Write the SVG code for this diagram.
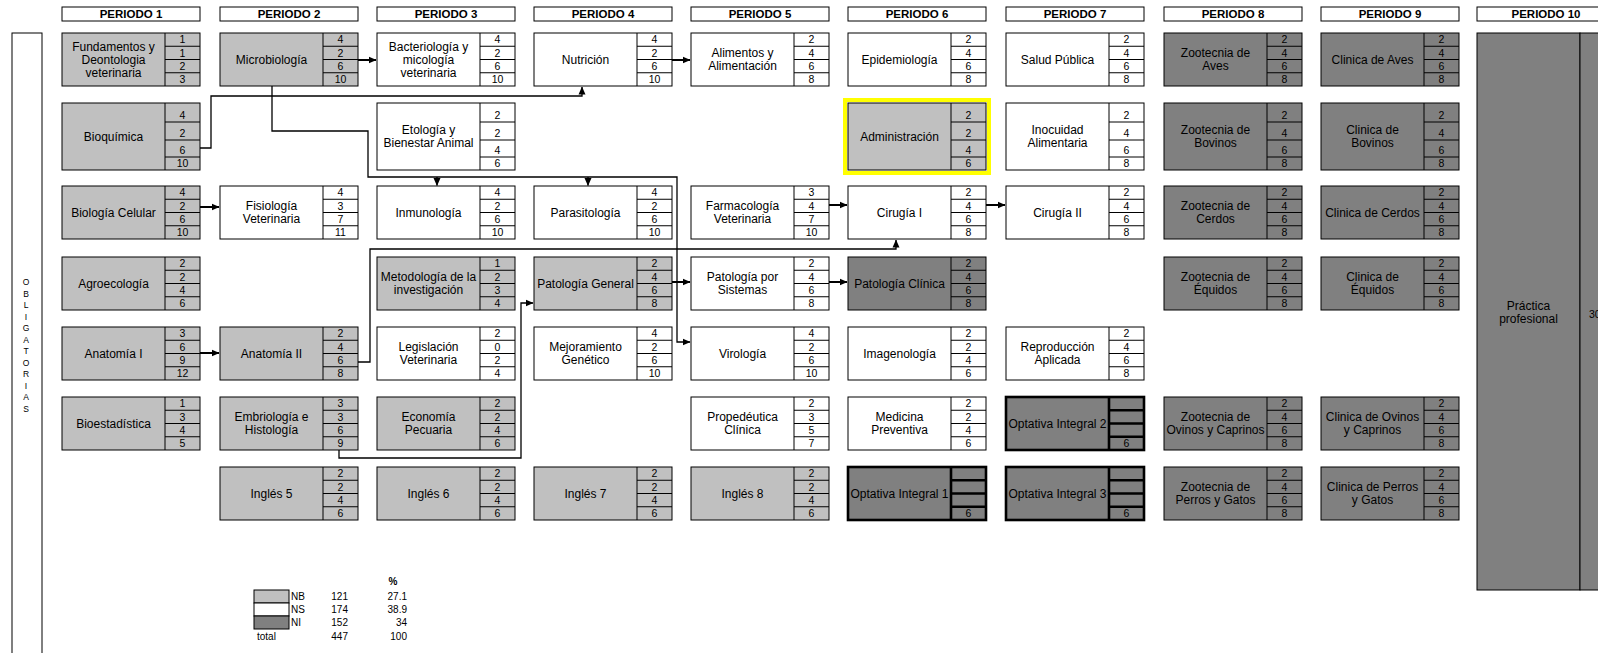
<svg xmlns="http://www.w3.org/2000/svg" xmlns:xlink="http://www.w3.org/1999/xlink" width="1598" height="653" viewBox="0 0 1598 653">
<style>
.nb{fill:#c0c0c0}.ns{fill:#fff}.ni{fill:#808080}
text{font-family:"Liberation Sans",Arial,sans-serif;fill:#000}
.nm{font-size:12px;text-anchor:middle}
.cr{font-size:10.5px;text-anchor:middle}
.hd{font-size:11.5px;font-weight:bold;text-anchor:middle}
.lg{font-size:10px}
.ob{font-size:8.5px;text-anchor:middle}
.c{fill:none;stroke:#000;stroke-width:1.3}
.s{fill:none;stroke:#000;stroke-width:2}
</style>
<defs>
<g id="fr"><rect width="138" height="53" stroke="#000" stroke-width="1"/><path d="M103 0V53M103 13.25H138M103 26.5H138M103 39.75H138" fill="none" stroke="#000" stroke-width="1"/></g>
<g id="fr2"><rect width="138" height="67" stroke="#000" stroke-width="1"/><path d="M103 0V67M103 19H138M103 37H138M103 54H138" fill="none" stroke="#000" stroke-width="1"/></g>
<g id="fro"><rect width="138" height="53" stroke="#000" stroke-width="2.6"/><path d="M103 0V53M103 13.25H138M103 26.5H138M103 39.75H138" fill="none" stroke="#000" stroke-width="2.6"/></g>
<marker id="ah" markerWidth="8" markerHeight="8" refX="7.5" refY="4" orient="auto" markerUnits="userSpaceOnUse"><path d="M0 0.5L8 4L0 7.5z" fill="#000"/></marker>
</defs>
<rect width="1598" height="653" fill="#fff"/>

<g id="headers">
<g fill="#fff" stroke="#000" stroke-width="1">
<rect x="62" y="7" width="138" height="14"/><rect x="220" y="7" width="138" height="14"/><rect x="377" y="7" width="138" height="14"/><rect x="534" y="7" width="138" height="14"/><rect x="691" y="7" width="138" height="14"/><rect x="848" y="7" width="138" height="14"/><rect x="1006" y="7" width="138" height="14"/><rect x="1164" y="7" width="138" height="14"/><rect x="1321" y="7" width="138" height="14"/><rect x="1477" y="7" width="138" height="14"/>
</g>
<text class="hd" x="131" y="18">PERIODO 1</text><text class="hd" x="289" y="18">PERIODO 2</text><text class="hd" x="446" y="18">PERIODO 3</text><text class="hd" x="603" y="18">PERIODO 4</text><text class="hd" x="760" y="18">PERIODO 5</text><text class="hd" x="917" y="18">PERIODO 6</text><text class="hd" x="1075" y="18">PERIODO 7</text><text class="hd" x="1233" y="18">PERIODO 8</text><text class="hd" x="1390" y="18">PERIODO 9</text><text class="hd" x="1546" y="18">PERIODO 10</text>
</g>

<g id="obligatorias">
<rect x="12" y="33" width="30" height="640" fill="#fff" stroke="#000" stroke-width="1"/>
<text class="ob" x="26" y="285">O<tspan x="26" dy="11.5">B</tspan><tspan x="26" dy="11.5">L</tspan><tspan x="26" dy="11.5">I</tspan><tspan x="26" dy="11.5">G</tspan><tspan x="26" dy="11.5">A</tspan><tspan x="26" dy="11.5">T</tspan><tspan x="26" dy="11.5">O</tspan><tspan x="26" dy="11.5">R</tspan><tspan x="26" dy="11.5">I</tspan><tspan x="26" dy="11.5">A</tspan><tspan x="26" dy="11.5">S</tspan></text>
</g>

<!-- PERIODO 1 -->
<g id="n-fundamentos" class="nb" transform="translate(62,33)"><use xlink:href="#fr" href="#fr"/><text class="nm" x="51.5" y="17.7">Fundamentos y<tspan x="51.5" dy="13">Deontologia</tspan><tspan x="51.5" dy="13">veterinaria</tspan></text><text class="cr"><tspan x="120.5" y="10.3">1</tspan><tspan x="120.5" y="23.6">1</tspan><tspan x="120.5" y="36.8">2</tspan><tspan x="120.5" y="50.1">3</tspan></text></g>
<g id="n-bioquimica" class="nb" transform="translate(62,103)"><use xlink:href="#fr2" href="#fr2"/><text class="nm" x="51.5" y="37.7">Bioquímica</text><text class="cr"><tspan x="120.5" y="16">4</tspan><tspan x="120.5" y="34">2</tspan><tspan x="120.5" y="51">6</tspan><tspan x="120.5" y="64">10</tspan></text></g>
<g id="n-biologia-celular" class="nb" transform="translate(62,186)"><use xlink:href="#fr" href="#fr"/><text class="nm" x="51.5" y="30.7">Biología Celular</text><text class="cr"><tspan x="120.5" y="10.3">4</tspan><tspan x="120.5" y="23.6">2</tspan><tspan x="120.5" y="36.8">6</tspan><tspan x="120.5" y="50.1">10</tspan></text></g>
<g id="n-agroecologia" class="nb" transform="translate(62,257)"><use xlink:href="#fr" href="#fr"/><text class="nm" x="51.5" y="30.7">Agroecología</text><text class="cr"><tspan x="120.5" y="10.3">2</tspan><tspan x="120.5" y="23.6">2</tspan><tspan x="120.5" y="36.8">4</tspan><tspan x="120.5" y="50.1">6</tspan></text></g>
<g id="n-anatomia1" class="nb" transform="translate(62,327)"><use xlink:href="#fr" href="#fr"/><text class="nm" x="51.5" y="30.7">Anatomía I</text><text class="cr"><tspan x="120.5" y="10.3">3</tspan><tspan x="120.5" y="23.6">6</tspan><tspan x="120.5" y="36.8">9</tspan><tspan x="120.5" y="50.1">12</tspan></text></g>
<g id="n-bioestadistica" class="nb" transform="translate(62,397)"><use xlink:href="#fr" href="#fr"/><text class="nm" x="51.5" y="30.7">Bioestadística</text><text class="cr"><tspan x="120.5" y="10.3">1</tspan><tspan x="120.5" y="23.6">3</tspan><tspan x="120.5" y="36.8">4</tspan><tspan x="120.5" y="50.1">5</tspan></text></g>

<!-- PERIODO 2 -->
<g id="n-microbiologia" class="nb" transform="translate(220,33)"><use xlink:href="#fr" href="#fr"/><text class="nm" x="51.5" y="30.7">Microbiología</text><text class="cr"><tspan x="120.5" y="10.3">4</tspan><tspan x="120.5" y="23.6">2</tspan><tspan x="120.5" y="36.8">6</tspan><tspan x="120.5" y="50.1">10</tspan></text></g>
<g id="n-fisiologia" class="ns" transform="translate(220,186)"><use xlink:href="#fr" href="#fr"/><text class="nm" x="51.5" y="24.2">Fisiología<tspan x="51.5" dy="13">Veterinaria</tspan></text><text class="cr"><tspan x="120.5" y="10.3">4</tspan><tspan x="120.5" y="23.6">3</tspan><tspan x="120.5" y="36.8">7</tspan><tspan x="120.5" y="50.1">11</tspan></text></g>
<g id="n-anatomia2" class="nb" transform="translate(220,327)"><use xlink:href="#fr" href="#fr"/><text class="nm" x="51.5" y="30.7">Anatomía II</text><text class="cr"><tspan x="120.5" y="10.3">2</tspan><tspan x="120.5" y="23.6">4</tspan><tspan x="120.5" y="36.8">6</tspan><tspan x="120.5" y="50.1">8</tspan></text></g>
<g id="n-embriologia" class="nb" transform="translate(220,397)"><use xlink:href="#fr" href="#fr"/><text class="nm" x="51.5" y="24.2">Embriología e<tspan x="51.5" dy="13">Histología</tspan></text><text class="cr"><tspan x="120.5" y="10.3">3</tspan><tspan x="120.5" y="23.6">3</tspan><tspan x="120.5" y="36.8">6</tspan><tspan x="120.5" y="50.1">9</tspan></text></g>
<g id="n-ingles5" class="nb" transform="translate(220,467)"><use xlink:href="#fr" href="#fr"/><text class="nm" x="51.5" y="30.7">Inglés 5</text><text class="cr"><tspan x="120.5" y="10.3">2</tspan><tspan x="120.5" y="23.6">2</tspan><tspan x="120.5" y="36.8">4</tspan><tspan x="120.5" y="50.1">6</tspan></text></g>

<!-- PERIODO 3 -->
<g id="n-bacteriologia" class="ns" transform="translate(377,33)"><use xlink:href="#fr" href="#fr"/><text class="nm" x="51.5" y="17.7">Bacteriología y<tspan x="51.5" dy="13">micología</tspan><tspan x="51.5" dy="13">veterinaria</tspan></text><text class="cr"><tspan x="120.5" y="10.3">4</tspan><tspan x="120.5" y="23.6">2</tspan><tspan x="120.5" y="36.8">6</tspan><tspan x="120.5" y="50.1">10</tspan></text></g>
<g id="n-etologia" class="ns" transform="translate(377,103)"><use xlink:href="#fr2" href="#fr2"/><text class="nm" x="51.5" y="31.2">Etología y<tspan x="51.5" dy="13">Bienestar Animal</tspan></text><text class="cr"><tspan x="120.5" y="16">2</tspan><tspan x="120.5" y="34">2</tspan><tspan x="120.5" y="51">4</tspan><tspan x="120.5" y="64">6</tspan></text></g>
<g id="n-inmunologia" class="ns" transform="translate(377,186)"><use xlink:href="#fr" href="#fr"/><text class="nm" x="51.5" y="30.7">Inmunología</text><text class="cr"><tspan x="120.5" y="10.3">4</tspan><tspan x="120.5" y="23.6">2</tspan><tspan x="120.5" y="36.8">6</tspan><tspan x="120.5" y="50.1">10</tspan></text></g>
<g id="n-metodologia" class="nb" transform="translate(377,257)"><use xlink:href="#fr" href="#fr"/><text class="nm" x="51.5" y="24.2">Metodología de la<tspan x="51.5" dy="13">investigación</tspan></text><text class="cr"><tspan x="120.5" y="10.3">1</tspan><tspan x="120.5" y="23.6">2</tspan><tspan x="120.5" y="36.8">3</tspan><tspan x="120.5" y="50.1">4</tspan></text></g>
<g id="n-legislacion" class="ns" transform="translate(377,327)"><use xlink:href="#fr" href="#fr"/><text class="nm" x="51.5" y="24.2">Legislación<tspan x="51.5" dy="13">Veterinaria</tspan></text><text class="cr"><tspan x="120.5" y="10.3">2</tspan><tspan x="120.5" y="23.6">0</tspan><tspan x="120.5" y="36.8">2</tspan><tspan x="120.5" y="50.1">4</tspan></text></g>
<g id="n-economia" class="nb" transform="translate(377,397)"><use xlink:href="#fr" href="#fr"/><text class="nm" x="51.5" y="24.2">Economía<tspan x="51.5" dy="13">Pecuaria</tspan></text><text class="cr"><tspan x="120.5" y="10.3">2</tspan><tspan x="120.5" y="23.6">2</tspan><tspan x="120.5" y="36.8">4</tspan><tspan x="120.5" y="50.1">6</tspan></text></g>
<g id="n-ingles6" class="nb" transform="translate(377,467)"><use xlink:href="#fr" href="#fr"/><text class="nm" x="51.5" y="30.7">Inglés 6</text><text class="cr"><tspan x="120.5" y="10.3">2</tspan><tspan x="120.5" y="23.6">2</tspan><tspan x="120.5" y="36.8">4</tspan><tspan x="120.5" y="50.1">6</tspan></text></g>

<!-- PERIODO 4 -->
<g id="n-nutricion" class="ns" transform="translate(534,33)"><use xlink:href="#fr" href="#fr"/><text class="nm" x="51.5" y="30.7">Nutrición</text><text class="cr"><tspan x="120.5" y="10.3">4</tspan><tspan x="120.5" y="23.6">2</tspan><tspan x="120.5" y="36.8">6</tspan><tspan x="120.5" y="50.1">10</tspan></text></g>
<g id="n-parasitologia" class="ns" transform="translate(534,186)"><use xlink:href="#fr" href="#fr"/><text class="nm" x="51.5" y="30.7">Parasitología</text><text class="cr"><tspan x="120.5" y="10.3">4</tspan><tspan x="120.5" y="23.6">2</tspan><tspan x="120.5" y="36.8">6</tspan><tspan x="120.5" y="50.1">10</tspan></text></g>
<g id="n-patologia-general" class="nb" transform="translate(534,257)"><use xlink:href="#fr" href="#fr"/><text class="nm" x="51.5" y="30.7">Patología General</text><text class="cr"><tspan x="120.5" y="10.3">2</tspan><tspan x="120.5" y="23.6">4</tspan><tspan x="120.5" y="36.8">6</tspan><tspan x="120.5" y="50.1">8</tspan></text></g>
<g id="n-mejoramiento" class="ns" transform="translate(534,327)"><use xlink:href="#fr" href="#fr"/><text class="nm" x="51.5" y="24.2">Mejoramiento<tspan x="51.5" dy="13">Genético</tspan></text><text class="cr"><tspan x="120.5" y="10.3">4</tspan><tspan x="120.5" y="23.6">2</tspan><tspan x="120.5" y="36.8">6</tspan><tspan x="120.5" y="50.1">10</tspan></text></g>
<g id="n-ingles7" class="nb" transform="translate(534,467)"><use xlink:href="#fr" href="#fr"/><text class="nm" x="51.5" y="30.7">Inglés 7</text><text class="cr"><tspan x="120.5" y="10.3">2</tspan><tspan x="120.5" y="23.6">2</tspan><tspan x="120.5" y="36.8">4</tspan><tspan x="120.5" y="50.1">6</tspan></text></g>

<!-- PERIODO 5 -->
<g id="n-alimentos" class="ns" transform="translate(691,33)"><use xlink:href="#fr" href="#fr"/><text class="nm" x="51.5" y="24.2">Alimentos y<tspan x="51.5" dy="13">Alimentación</tspan></text><text class="cr"><tspan x="120.5" y="10.3">2</tspan><tspan x="120.5" y="23.6">4</tspan><tspan x="120.5" y="36.8">6</tspan><tspan x="120.5" y="50.1">8</tspan></text></g>
<g id="n-farmacologia" class="ns" transform="translate(691,186)"><use xlink:href="#fr" href="#fr"/><text class="nm" x="51.5" y="24.2">Farmacología<tspan x="51.5" dy="13">Veterinaria</tspan></text><text class="cr"><tspan x="120.5" y="10.3">3</tspan><tspan x="120.5" y="23.6">4</tspan><tspan x="120.5" y="36.8">7</tspan><tspan x="120.5" y="50.1">10</tspan></text></g>
<g id="n-patologia-sistemas" class="ns" transform="translate(691,257)"><use xlink:href="#fr" href="#fr"/><text class="nm" x="51.5" y="24.2">Patología por<tspan x="51.5" dy="13">Sistemas</tspan></text><text class="cr"><tspan x="120.5" y="10.3">2</tspan><tspan x="120.5" y="23.6">4</tspan><tspan x="120.5" y="36.8">6</tspan><tspan x="120.5" y="50.1">8</tspan></text></g>
<g id="n-virologia" class="ns" transform="translate(691,327)"><use xlink:href="#fr" href="#fr"/><text class="nm" x="51.5" y="30.7">Virología</text><text class="cr"><tspan x="120.5" y="10.3">4</tspan><tspan x="120.5" y="23.6">2</tspan><tspan x="120.5" y="36.8">6</tspan><tspan x="120.5" y="50.1">10</tspan></text></g>
<g id="n-propedeutica" class="ns" transform="translate(691,397)"><use xlink:href="#fr" href="#fr"/><text class="nm" x="51.5" y="24.2">Propedéutica<tspan x="51.5" dy="13">Clínica</tspan></text><text class="cr"><tspan x="120.5" y="10.3">2</tspan><tspan x="120.5" y="23.6">3</tspan><tspan x="120.5" y="36.8">5</tspan><tspan x="120.5" y="50.1">7</tspan></text></g>
<g id="n-ingles8" class="nb" transform="translate(691,467)"><use xlink:href="#fr" href="#fr"/><text class="nm" x="51.5" y="30.7">Inglés 8</text><text class="cr"><tspan x="120.5" y="10.3">2</tspan><tspan x="120.5" y="23.6">2</tspan><tspan x="120.5" y="36.8">4</tspan><tspan x="120.5" y="50.1">6</tspan></text></g>

<!-- PERIODO 6 -->
<g id="n-epidemiologia" class="ns" transform="translate(848,33)"><use xlink:href="#fr" href="#fr"/><text class="nm" x="51.5" y="30.7">Epidemiología</text><text class="cr"><tspan x="120.5" y="10.3">2</tspan><tspan x="120.5" y="23.6">4</tspan><tspan x="120.5" y="36.8">6</tspan><tspan x="120.5" y="50.1">8</tspan></text></g>
<g id="n-administracion" class="nb" transform="translate(848,103)"><rect x="-3" y="-3" width="144" height="73" fill="none" stroke="#ffff00" stroke-width="4"/><use xlink:href="#fr2" href="#fr2"/><text class="nm" x="51.5" y="37.7">Administración</text><text class="cr"><tspan x="120.5" y="16">2</tspan><tspan x="120.5" y="34">2</tspan><tspan x="120.5" y="51">4</tspan><tspan x="120.5" y="64">6</tspan></text></g>
<g id="n-cirugia1" class="ns" transform="translate(848,186)"><use xlink:href="#fr" href="#fr"/><text class="nm" x="51.5" y="30.7">Cirugía I</text><text class="cr"><tspan x="120.5" y="10.3">2</tspan><tspan x="120.5" y="23.6">4</tspan><tspan x="120.5" y="36.8">6</tspan><tspan x="120.5" y="50.1">8</tspan></text></g>
<g id="n-patologia-clinica" class="ni" transform="translate(848,257)"><use xlink:href="#fr" href="#fr"/><text class="nm" x="51.5" y="30.7">Patología Clínica</text><text class="cr"><tspan x="120.5" y="10.3">2</tspan><tspan x="120.5" y="23.6">4</tspan><tspan x="120.5" y="36.8">6</tspan><tspan x="120.5" y="50.1">8</tspan></text></g>
<g id="n-imagenologia" class="ns" transform="translate(848,327)"><use xlink:href="#fr" href="#fr"/><text class="nm" x="51.5" y="30.7">Imagenología</text><text class="cr"><tspan x="120.5" y="10.3">2</tspan><tspan x="120.5" y="23.6">2</tspan><tspan x="120.5" y="36.8">4</tspan><tspan x="120.5" y="50.1">6</tspan></text></g>
<g id="n-medicina" class="ns" transform="translate(848,397)"><use xlink:href="#fr" href="#fr"/><text class="nm" x="51.5" y="24.2">Medicina<tspan x="51.5" dy="13">Preventiva</tspan></text><text class="cr"><tspan x="120.5" y="10.3">2</tspan><tspan x="120.5" y="23.6">2</tspan><tspan x="120.5" y="36.8">4</tspan><tspan x="120.5" y="50.1">6</tspan></text></g>
<g id="n-optativa1" class="ni" transform="translate(848,467)"><use xlink:href="#fro" href="#fro"/><text class="nm" x="51.5" y="30.7">Optativa Integral 1</text><text class="cr" x="120.5" y="50.1">6</text></g>

<!-- PERIODO 7 -->
<g id="n-salud" class="ns" transform="translate(1006,33)"><use xlink:href="#fr" href="#fr"/><text class="nm" x="51.5" y="30.7">Salud Pública</text><text class="cr"><tspan x="120.5" y="10.3">2</tspan><tspan x="120.5" y="23.6">4</tspan><tspan x="120.5" y="36.8">6</tspan><tspan x="120.5" y="50.1">8</tspan></text></g>
<g id="n-inocuidad" class="ns" transform="translate(1006,103)"><use xlink:href="#fr2" href="#fr2"/><text class="nm" x="51.5" y="31.2">Inocuidad<tspan x="51.5" dy="13">Alimentaria</tspan></text><text class="cr"><tspan x="120.5" y="16">2</tspan><tspan x="120.5" y="34">4</tspan><tspan x="120.5" y="51">6</tspan><tspan x="120.5" y="64">8</tspan></text></g>
<g id="n-cirugia2" class="ns" transform="translate(1006,186)"><use xlink:href="#fr" href="#fr"/><text class="nm" x="51.5" y="30.7">Cirugía II</text><text class="cr"><tspan x="120.5" y="10.3">2</tspan><tspan x="120.5" y="23.6">4</tspan><tspan x="120.5" y="36.8">6</tspan><tspan x="120.5" y="50.1">8</tspan></text></g>
<g id="n-reproduccion" class="ns" transform="translate(1006,327)"><use xlink:href="#fr" href="#fr"/><text class="nm" x="51.5" y="24.2">Reproducción<tspan x="51.5" dy="13">Aplicada</tspan></text><text class="cr"><tspan x="120.5" y="10.3">2</tspan><tspan x="120.5" y="23.6">4</tspan><tspan x="120.5" y="36.8">6</tspan><tspan x="120.5" y="50.1">8</tspan></text></g>
<g id="n-optativa2" class="ni" transform="translate(1006,397)"><use xlink:href="#fro" href="#fro"/><text class="nm" x="51.5" y="30.7">Optativa Integral 2</text><text class="cr" x="120.5" y="50.1">6</text></g>
<g id="n-optativa3" class="ni" transform="translate(1006,467)"><use xlink:href="#fro" href="#fro"/><text class="nm" x="51.5" y="30.7">Optativa Integral 3</text><text class="cr" x="120.5" y="50.1">6</text></g>

<!-- PERIODO 8 -->
<g id="n-zoo-aves" class="ni" transform="translate(1164,33)"><use xlink:href="#fr" href="#fr"/><text class="nm" x="51.5" y="24.2">Zootecnia de<tspan x="51.5" dy="13">Aves</tspan></text><text class="cr"><tspan x="120.5" y="10.3">2</tspan><tspan x="120.5" y="23.6">4</tspan><tspan x="120.5" y="36.8">6</tspan><tspan x="120.5" y="50.1">8</tspan></text></g>
<g id="n-zoo-bovinos" class="ni" transform="translate(1164,103)"><use xlink:href="#fr2" href="#fr2"/><text class="nm" x="51.5" y="31.2">Zootecnia de<tspan x="51.5" dy="13">Bovinos</tspan></text><text class="cr"><tspan x="120.5" y="16">2</tspan><tspan x="120.5" y="34">4</tspan><tspan x="120.5" y="51">6</tspan><tspan x="120.5" y="64">8</tspan></text></g>
<g id="n-zoo-cerdos" class="ni" transform="translate(1164,186)"><use xlink:href="#fr" href="#fr"/><text class="nm" x="51.5" y="24.2">Zootecnia de<tspan x="51.5" dy="13">Cerdos</tspan></text><text class="cr"><tspan x="120.5" y="10.3">2</tspan><tspan x="120.5" y="23.6">4</tspan><tspan x="120.5" y="36.8">6</tspan><tspan x="120.5" y="50.1">8</tspan></text></g>
<g id="n-zoo-equidos" class="ni" transform="translate(1164,257)"><use xlink:href="#fr" href="#fr"/><text class="nm" x="51.5" y="24.2">Zootecnia de<tspan x="51.5" dy="13">Équidos</tspan></text><text class="cr"><tspan x="120.5" y="10.3">2</tspan><tspan x="120.5" y="23.6">4</tspan><tspan x="120.5" y="36.8">6</tspan><tspan x="120.5" y="50.1">8</tspan></text></g>
<g id="n-zoo-ovinos" class="ni" transform="translate(1164,397)"><use xlink:href="#fr" href="#fr"/><text class="nm" x="51.5" y="24.2">Zootecnia de<tspan x="51.5" dy="13">Ovinos y Caprinos</tspan></text><text class="cr"><tspan x="120.5" y="10.3">2</tspan><tspan x="120.5" y="23.6">4</tspan><tspan x="120.5" y="36.8">6</tspan><tspan x="120.5" y="50.1">8</tspan></text></g>
<g id="n-zoo-perros" class="ni" transform="translate(1164,467)"><use xlink:href="#fr" href="#fr"/><text class="nm" x="51.5" y="24.2">Zootecnia de<tspan x="51.5" dy="13">Perros y Gatos</tspan></text><text class="cr"><tspan x="120.5" y="10.3">2</tspan><tspan x="120.5" y="23.6">4</tspan><tspan x="120.5" y="36.8">6</tspan><tspan x="120.5" y="50.1">8</tspan></text></g>

<!-- PERIODO 9 -->
<g id="n-cli-aves" class="ni" transform="translate(1321,33)"><use xlink:href="#fr" href="#fr"/><text class="nm" x="51.5" y="30.7">Clinica de Aves</text><text class="cr"><tspan x="120.5" y="10.3">2</tspan><tspan x="120.5" y="23.6">4</tspan><tspan x="120.5" y="36.8">6</tspan><tspan x="120.5" y="50.1">8</tspan></text></g>
<g id="n-cli-bovinos" class="ni" transform="translate(1321,103)"><use xlink:href="#fr2" href="#fr2"/><text class="nm" x="51.5" y="31.2">Clinica de<tspan x="51.5" dy="13">Bovinos</tspan></text><text class="cr"><tspan x="120.5" y="16">2</tspan><tspan x="120.5" y="34">4</tspan><tspan x="120.5" y="51">6</tspan><tspan x="120.5" y="64">8</tspan></text></g>
<g id="n-cli-cerdos" class="ni" transform="translate(1321,186)"><use xlink:href="#fr" href="#fr"/><text class="nm" x="51.5" y="30.7">Clinica de Cerdos</text><text class="cr"><tspan x="120.5" y="10.3">2</tspan><tspan x="120.5" y="23.6">4</tspan><tspan x="120.5" y="36.8">6</tspan><tspan x="120.5" y="50.1">8</tspan></text></g>
<g id="n-cli-equidos" class="ni" transform="translate(1321,257)"><use xlink:href="#fr" href="#fr"/><text class="nm" x="51.5" y="24.2">Clinica de<tspan x="51.5" dy="13">Équidos</tspan></text><text class="cr"><tspan x="120.5" y="10.3">2</tspan><tspan x="120.5" y="23.6">4</tspan><tspan x="120.5" y="36.8">6</tspan><tspan x="120.5" y="50.1">8</tspan></text></g>
<g id="n-cli-ovinos" class="ni" transform="translate(1321,397)"><use xlink:href="#fr" href="#fr"/><text class="nm" x="51.5" y="24.2">Clinica de Ovinos<tspan x="51.5" dy="13">y Caprinos</tspan></text><text class="cr"><tspan x="120.5" y="10.3">2</tspan><tspan x="120.5" y="23.6">4</tspan><tspan x="120.5" y="36.8">6</tspan><tspan x="120.5" y="50.1">8</tspan></text></g>
<g id="n-cli-perros" class="ni" transform="translate(1321,467)"><use xlink:href="#fr" href="#fr"/><text class="nm" x="51.5" y="24.2">Clinica de Perros<tspan x="51.5" dy="13">y Gatos</tspan></text><text class="cr"><tspan x="120.5" y="10.3">2</tspan><tspan x="120.5" y="23.6">4</tspan><tspan x="120.5" y="36.8">6</tspan><tspan x="120.5" y="50.1">8</tspan></text></g>

<!-- PERIODO 10 -->
<g id="n-practica" class="ni" transform="translate(1477,33)"><rect width="103" height="557" stroke="#000" stroke-width="1"/><rect x="103" width="36" height="557" stroke="#000" stroke-width="1"/><text class="nm" x="51.5" y="277">Práctica<tspan x="51.5" dy="13">profesional</tspan></text><text class="cr" x="112" y="285" style="text-anchor:start">30</text></g>

<g id="connectors">
<path class="s" d="M358 60H376" marker-end="url(#ah)"/>
<path class="s" d="M672 60H690" marker-end="url(#ah)"/>
<path class="s" d="M200 207H219" marker-end="url(#ah)"/>
<path class="s" d="M829 205H847" marker-end="url(#ah)"/>
<path class="s" d="M986 205H1005" marker-end="url(#ah)"/>
<path class="s" d="M200 353H219" marker-end="url(#ah)"/>
<path class="s" d="M672 282H690" marker-end="url(#ah)"/>
<path class="s" d="M829 282H847" marker-end="url(#ah)"/>
<path class="c" d="M200 148H211V96H582V87" marker-end="url(#ah)"/>
<path class="c" d="M272 86V131H368V177H677V342H690" marker-end="url(#ah)"/>
<path class="c" d="M437 177V185.5" marker-end="url(#ah)"/>
<path class="c" d="M588 177V185.5" marker-end="url(#ah)"/>
<path class="c" d="M358 362H370V249H896V240" marker-end="url(#ah)"/>
<path class="c" d="M339 450V458H521V303H533" marker-end="url(#ah)"/>
</g>

<g id="legend">
<rect x="254" y="590" width="35" height="13" fill="#c0c0c0" stroke="#000" stroke-width="1"/>
<rect x="254" y="603" width="35" height="13" fill="#fff" stroke="#000" stroke-width="1"/>
<rect x="254" y="616" width="35" height="13" fill="#808080" stroke="#000" stroke-width="1"/>
<text class="lg" x="393" y="585" style="font-weight:bold;text-anchor:middle">%</text>
<text class="lg" x="291" y="600">NB</text><text class="lg" x="291" y="613">NS</text><text class="lg" x="291" y="626">NI</text><text class="lg" x="257" y="640">total</text>
<g style="text-anchor:end"><text class="lg" x="348" y="600">121</text><text class="lg" x="348" y="613">174</text><text class="lg" x="348" y="626">152</text><text class="lg" x="348" y="640">447</text>
<text class="lg" x="407" y="600">27.1</text><text class="lg" x="407" y="613">38.9</text><text class="lg" x="407" y="626">34</text><text class="lg" x="407" y="640">100</text></g>
</g>
</svg>
